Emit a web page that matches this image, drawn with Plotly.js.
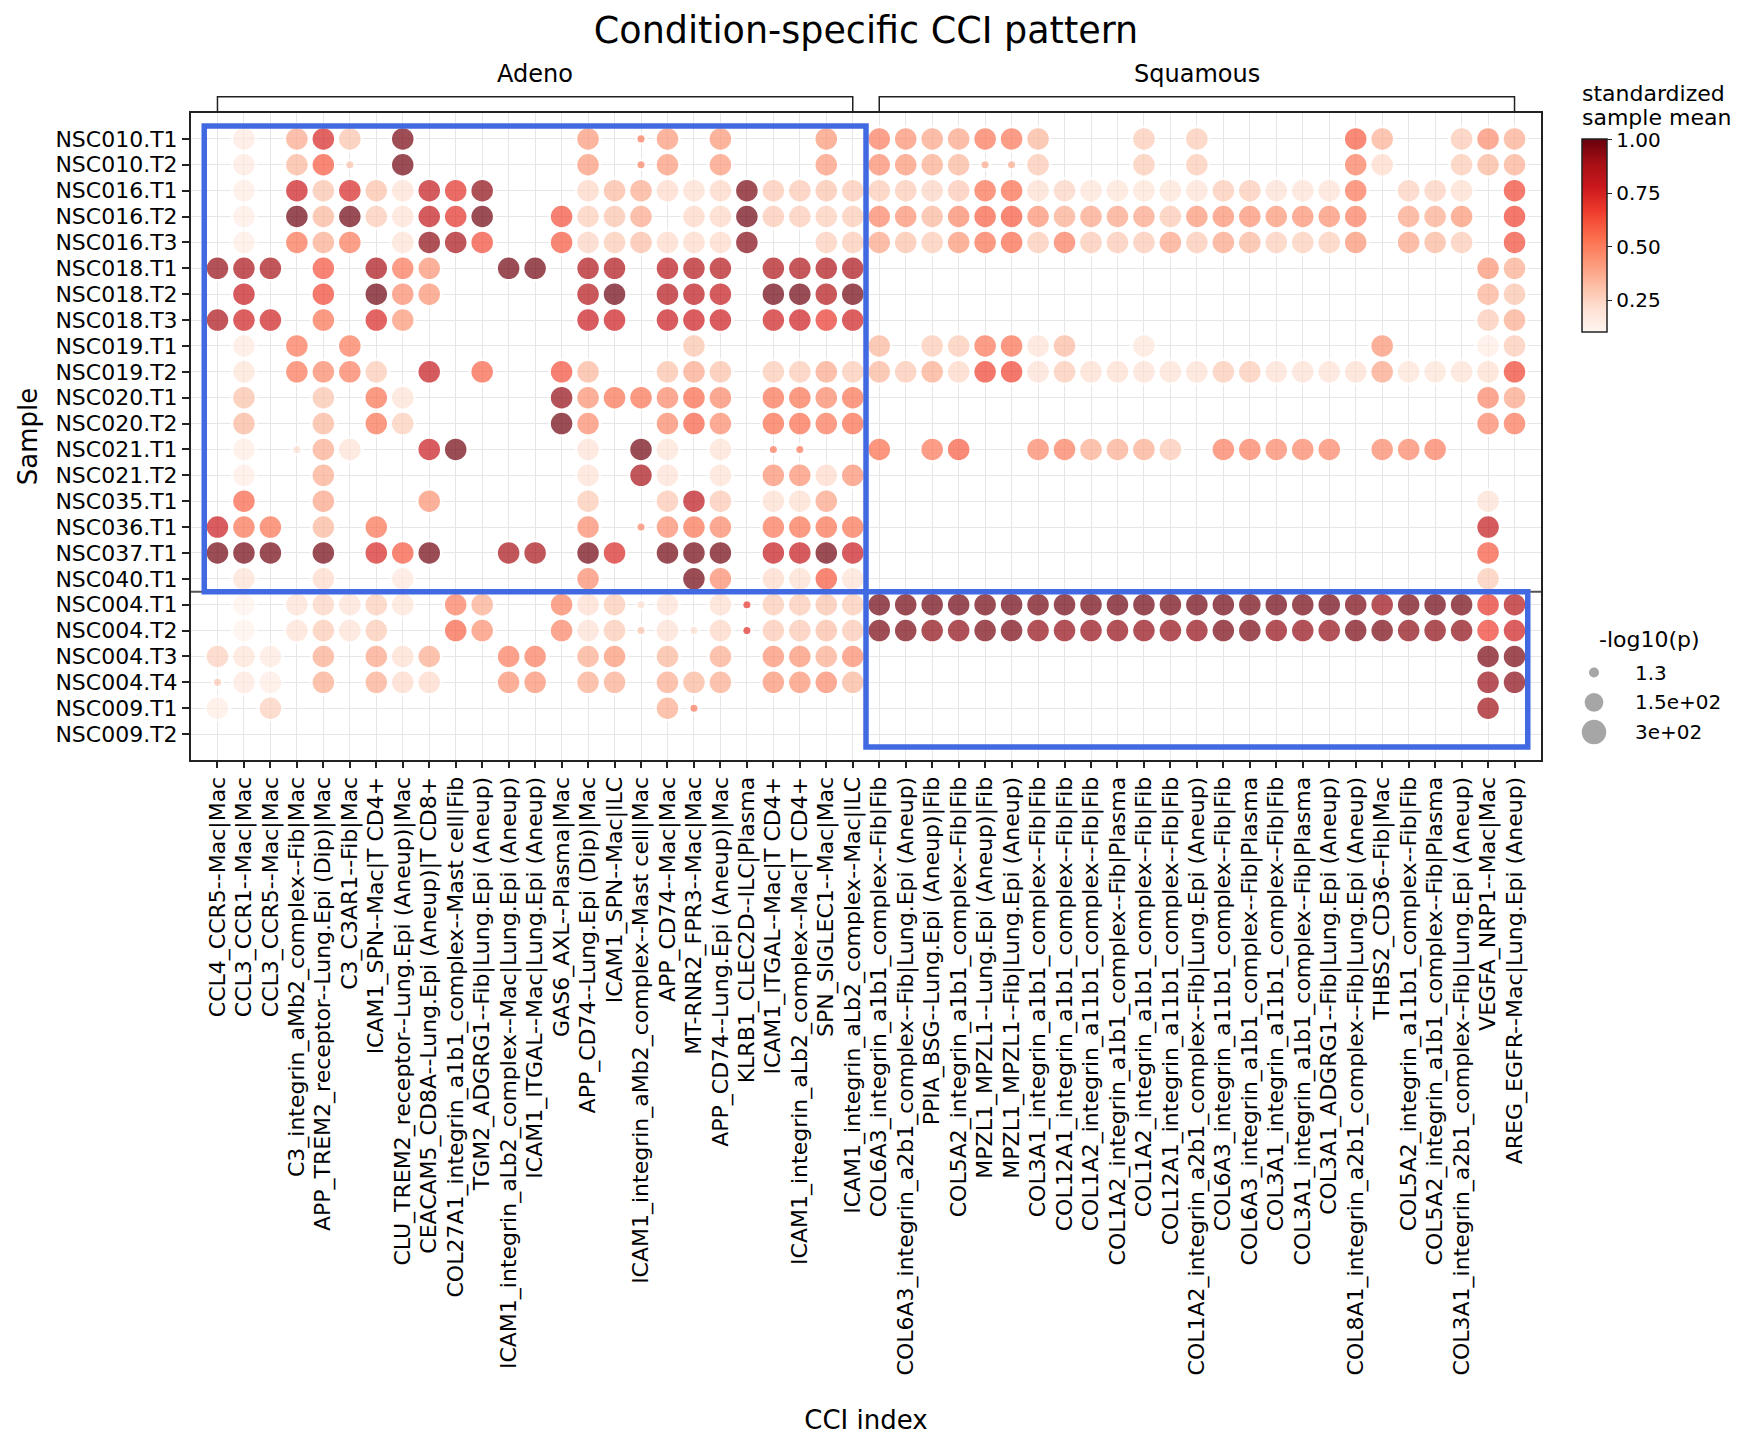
<!DOCTYPE html>
<html><head><meta charset="utf-8">
<script src="https://cdn.plot.ly/plotly-3.0.1.min.js"></script>
<style>html,body{margin:0;padding:0;background:#fff}#chart{width:1752px;height:1448px}</style>
</head><body><div id="chart"></div>
<script>
const _ = null;
const samples = ['NSC010.T1','NSC010.T2','NSC016.T1','NSC016.T2','NSC016.T3','NSC018.T1','NSC018.T2','NSC018.T3','NSC019.T1','NSC019.T2','NSC020.T1','NSC020.T2','NSC021.T1','NSC021.T2','NSC035.T1','NSC036.T1','NSC037.T1','NSC040.T1','NSC004.T1','NSC004.T2','NSC004.T3','NSC004.T4','NSC009.T1','NSC009.T2'];
const cciLabels = [
 'CCL4_CCR5--Mac|Mac','CCL3_CCR1--Mac|Mac','CCL3_CCR5--Mac|Mac','C3_integrin_aMb2_complex--Fib|Mac','APP_TREM2_receptor--Lung.Epi (Dip)|Mac',
 'C3_C3AR1--Fib|Mac','ICAM1_SPN--Mac|T CD4+','CLU_TREM2_receptor--Lung.Epi (Aneup)|Mac','CEACAM5_CD8A--Lung.Epi (Aneup)|T CD8+','COL27A1_integrin_a1b1_complex--Mast cell|Fib',
 'TGM2_ADGRG1--Fib|Lung.Epi (Aneup)','ICAM1_integrin_aLb2_complex--Mac|Lung.Epi (Aneup)','ICAM1_ITGAL--Mac|Lung.Epi (Aneup)','GAS6_AXL--Plasma|Mac','APP_CD74--Lung.Epi (Dip)|Mac',
 'ICAM1_SPN--Mac|ILC','ICAM1_integrin_aMb2_complex--Mast cell|Mac','APP_CD74--Mac|Mac','MT-RNR2_FPR3--Mac|Mac','APP_CD74--Lung.Epi (Aneup)|Mac',
 'KLRB1_CLEC2D--ILC|Plasma','ICAM1_ITGAL--Mac|T CD4+','ICAM1_integrin_aLb2_complex--Mac|T CD4+','SPN_SIGLEC1--Mac|Mac','ICAM1_integrin_aLb2_complex--Mac|ILC',
 'COL6A3_integrin_a1b1_complex--Fib|Fib','COL6A3_integrin_a2b1_complex--Fib|Lung.Epi (Aneup)','PPIA_BSG--Lung.Epi (Aneup)|Fib','COL5A2_integrin_a1b1_complex--Fib|Fib','MPZL1_MPZL1--Lung.Epi (Aneup)|Fib',
 'MPZL1_MPZL1--Fib|Lung.Epi (Aneup)','COL3A1_integrin_a1b1_complex--Fib|Fib','COL12A1_integrin_a1b1_complex--Fib|Fib','COL1A2_integrin_a11b1_complex--Fib|Fib','COL1A2_integrin_a1b1_complex--Fib|Plasma',
 'COL1A2_integrin_a1b1_complex--Fib|Fib','COL12A1_integrin_a11b1_complex--Fib|Fib','COL1A2_integrin_a2b1_complex--Fib|Lung.Epi (Aneup)','COL6A3_integrin_a11b1_complex--Fib|Fib','COL6A3_integrin_a1b1_complex--Fib|Plasma',
 'COL3A1_integrin_a11b1_complex--Fib|Fib','COL3A1_integrin_a1b1_complex--Fib|Plasma','COL3A1_ADGRG1--Fib|Lung.Epi (Aneup)','COL8A1_integrin_a2b1_complex--Fib|Lung.Epi (Aneup)','THBS2_CD36--Fib|Mac',
 'COL5A2_integrin_a11b1_complex--Fib|Fib','COL5A2_integrin_a1b1_complex--Fib|Plasma','COL3A1_integrin_a2b1_complex--Fib|Lung.Epi (Aneup)','VEGFA_NRP1--Mac|Mac','AREG_EGFR--Mac|Lung.Epi (Aneup)'];

const groupNames = ['Adeno', 'Squamous'];
const groupColStart = [0, 25];
const groupColEnd = [24, 49];
const groupRowStart = [0, 18];
const groupRowEnd = [17, 23];

// standardized sample mean (rows = samples, cols = CCI index)
const meanVals = [
 [_,.16,_,.38,.74,.30,_,.97,_,_, _,_,_,_,.42,_,.50,.42,_,.43, _,_,_,.43,_, .50,.45,.39,.39,.52, .52,.34,_,_,_, .28,_,.28,_,_, _,_,_,.59,.36, _,_,.29,.46,.37],
 [_,.16,_,.34,.60,.30,_,.98,_,_, _,_,_,_,.42,_,.48,.42,_,.42, _,_,_,.42,_, .46,.43,.37,.34,.37, .37,.29,_,_,_, .28,_,.28,_,_, _,_,_,.50,.23, _,_,.28,.34,.36],
 [_,.15,_,.77,.30,.74,.31,.20,.80,.70, .93,_,_,_,.24,.33,.37,.23,.22,.24, .97,.29,.29,.30,.29, .28,.28,.25,.29,.54, .55,.22,.25,.19,.19, .19,.19,.20,.28,.28, .21,.20,.20,.52,_, .26,.26,.22,_,.64],
 [_,.15,_,.99,.34,.99,.28,.20,.80,.70, .98,_,_,.62,.27,.30,.38,_,.24,.24, .99,.29,.28,.27,.28, .48,.45,.34,.47,.58, .60,.45,.37,.39,.39, .39,.29,.43,.45,.45, .43,.45,.45,.50,_, .39,.37,.43,_,.65],
 [_,.15,_,.53,.37,.51,_,.20,.93,.88, .63,_,_,.60,.25,.28,.32,.23,.23,.23, .95,_,_,.27,.28, .39,.31,.28,.43,.53, .56,.28,.50,.29,.29, .29,.39,.29,.39,.34, .27,.27,.27,.44,_, .39,.34,.28,_,.63],
 [.92,.87,.88,_,.61,_,.87,.52,.44,_, _,.98,.98,_,.86,.86,_,.83,.84,.84, _,.86,.86,.86,.87, _,_,_,_,_, _,_,_,_,_, _,_,_,_,_, _,_,_,_,_, _,_,_,.44,.37],
 [_,.79,_,_,.64,_,.99,.46,.44,_, _,_,_,_,.84,.99,_,.84,.82,.80, _,.99,.99,.84,.98, _,_,_,_,_, _,_,_,_,_, _,_,_,_,_, _,_,_,_,_, _,_,_,.36,.30],
 [.87,.76,.76,_,.53,_,.73,.43,_,_, _,_,_,_,.78,.77,_,.78,.77,.77, _,.76,.77,.68,.76, _,_,_,_,_, _,_,_,_,_, _,_,_,_,_, _,_,_,_,_, _,_,_,.28,.37],
 [_,.16,_,.52,_,.51,_,_,_,_, _,_,_,_,_,_,_,_,.30,_, _,_,_,_,_, .34,_,.28,.28,.52, .54,.20,.33,_,_, .18,_,_,_,_, _,_,_,_,.44, _,_,_,.15,.28],
 [_,.19,_,.52,.47,.50,.28,_,.79,_, .57,_,_,.62,.34,_,_,.31,.38,.31, _,.28,.28,.38,.28, .34,.29,.37,.24,.65, .65,.21,.28,.22,.22, .21,.20,.21,.28,.28, .21,.21,.20,.22,.39, .19,.19,.20,.22,.65],
 [_,.31,_,_,.30,_,.53,.20,_,_, _,_,_,.92,.45,.53,.53,.47,.56,.47, _,.53,.53,.47,.53, _,_,_,_,_, _,_,_,_,_, _,_,_,_,_, _,_,_,_,_, _,_,_,.48,.39],
 [_,.34,_,_,.34,_,.53,.27,_,_, _,_,_,.98,.46,_,_,.47,.58,.46, _,.55,.55,.52,.55, _,_,_,_,_, _,_,_,_,_, _,_,_,_,_, _,_,_,_,_, _,_,_,.48,.52],
 [_,.15,_,.22,.37,.20,_,_,.78,.98, _,_,_,_,.20,_,.98,.19,_,.20, _,.51,.51,_,_, .55,_,.52,.59,_, _,.48,.50,.37,.37, .37,.29,_,.50,.50, .48,.48,.48,_,.47, .48,.50,_,_,_],
 [_,.15,_,_,.37,_,_,_,_,_, _,_,_,_,.20,_,.88,.20,_,.20, _,.45,.45,.23,.45, _,_,_,_,_, _,_,_,_,_, _,_,_,_,_, _,_,_,_,_, _,_,_,_,_],
 [_,.57,_,_,.39,_,_,_,.44,_, _,_,_,_,.28,_,_,.29,.82,.29, _,.22,.22,.39,_, _,_,_,_,_, _,_,_,_,_, _,_,_,_,_, _,_,_,_,_, _,_,_,.21,_],
 [.78,.53,.53,_,.34,_,.53,_,_,_, _,_,_,_,.46,_,.47,.46,.53,.47, _,.52,.53,.53,.53, _,_,_,_,_, _,_,_,_,_, _,_,_,_,_, _,_,_,_,_, _,_,_,.80,_],
 [.98,.98,.98,_,.98,_,.74,.60,.98,_, _,.88,.88,_,.98,.73,_,.98,.98,.98, _,.79,.79,.98,.78, _,_,_,_,_, _,_,_,_,_, _,_,_,_,_, _,_,_,_,_, _,_,_,.60,_],
 [_,.20,_,_,.23,_,_,.17,_,_, _,_,_,_,.46,_,_,_,.98,.46, _,.23,.22,.60,.20, _,_,_,_,_, _,_,_,_,_, _,_,_,_,_, _,_,_,_,_, _,_,_,.28,_],
 [_,.11,_,.20,.25,.20,.27,.19,_,.50, .37,_,_,.49,.22,.28,.22,.20,_,.22, .68,.28,.28,.30,.28, .99,.98,.99,.99,.98, .99,.98,.99,.98,.99, .99,.98,.99,.99,.98, .99,.98,.99,.97,.91, .98,.99,.98,.69,.84],
 [_,.11,_,.20,.28,.20,.28,_,_,.57, .45,_,_,.48,.21,.28,.30,.21,.22,.24, .70,.29,.29,.32,.29, .97,.97,.93,.93,.97, .97,.92,.92,.92,.92, .92,.92,.92,.97,.97, .92,.92,.92,.97,.97, .93,.93,.93,.66,.76],
 [.26,.19,.16,_,.37,_,.39,.22,.37,_, _,.50,.50,_,.37,.43,_,.34,_,.37, _,.45,.44,.37,.46, _,_,_,_,_, _,_,_,_,_, _,_,_,_,_, _,_,_,_,_, _,_,_,.97,.97],
 [.29,.17,.15,_,.37,_,.37,.23,.23,_, _,.45,.45,_,.37,.37,_,.37,.34,.37, _,.44,.44,.46,.34, _,_,_,_,_, _,_,_,_,_, _,_,_,_,_, _,_,_,_,_, _,_,_,.91,.94],
 [.15,_,.26,_,_,_,_,_,_,_, _,_,_,_,_,_,_,.37,.50,_, _,_,_,_,_, _,_,_,_,_, _,_,_,_,_, _,_,_,_,_, _,_,_,_,_, _,_,_,.90,_],
 [_,_,_,_,_,_,_,_,_,_, _,_,_,_,_,_,_,_,_,_, _,_,_,_,_, _,_,_,_,_, _,_,_,_,_, _,_,_,_,_, _,_,_,_,_, _,_,_,_,_]
];

// -log10(p) for each cell
const negLogP = [
 [_,300,_,300,300,300,_,300,_,_, _,_,_,_,300,_,2.0,300,_,300, _,_,_,300,_, 300,300,300,300,300, 300,300,_,_,_, 300,_,300,_,_, _,_,_,300,300, _,_,300,300,300],
 [_,300,_,300,300,2.6,_,300,_,_, _,_,_,_,300,_,1.9,300,_,300, _,_,_,300,_, 300,300,300,300,2.9, 2.3,300,_,_,_, 300,_,300,_,_, _,_,_,300,300, _,_,300,300,300],
 [_,300,_,300,300,300,300,300,300,300, 300,_,_,_,300,300,300,300,300,300, 300,300,300,300,300, 300,300,300,300,300, 300,300,300,300,300, 300,300,300,300,300, 300,300,300,300,_, 300,300,300,_,300],
 [_,300,_,300,300,300,300,300,300,300, 300,_,_,300,300,300,300,_,300,300, 300,300,300,300,300, 300,300,300,300,300, 300,300,300,300,300, 300,300,300,300,300, 300,300,300,300,_, 300,300,300,_,300],
 [_,300,_,300,300,300,_,300,300,300, 300,_,_,300,300,300,300,300,300,300, 300,_,_,300,300, 300,300,300,300,300, 300,300,300,300,300, 300,300,300,300,300, 300,300,300,300,_, 300,300,300,_,300],
 [300,300,300,_,300,_,300,300,300,_, _,300,300,_,300,300,_,300,300,300, _,300,300,300,300, _,_,_,_,_, _,_,_,_,_, _,_,_,_,_, _,_,_,_,_, _,_,_,300,300],
 [_,300,_,_,300,_,300,300,300,_, _,_,_,_,300,300,_,300,300,300, _,300,300,300,300, _,_,_,_,_, _,_,_,_,_, _,_,_,_,_, _,_,_,_,_, _,_,_,300,300],
 [300,300,300,_,300,_,300,300,_,_, _,_,_,_,300,300,_,300,300,300, _,300,300,300,300, _,_,_,_,_, _,_,_,_,_, _,_,_,_,_, _,_,_,_,_, _,_,_,300,300],
 [_,300,_,300,_,300,_,_,_,_, _,_,_,_,_,_,_,_,300,_, _,_,_,_,_, 300,_,300,300,300, 300,300,300,_,_, 300,_,_,_,_, _,_,_,_,300, _,_,_,300,300],
 [_,300,_,300,300,300,300,_,300,_, 300,_,_,300,300,_,_,300,300,300, _,300,300,300,300, 300,300,300,300,300, 300,300,300,300,300, 300,300,300,300,300, 300,300,300,300,300, 300,300,300,300,300],
 [_,300,_,_,300,_,300,300,_,_, _,_,_,300,300,300,300,300,300,300, _,300,300,300,300, _,_,_,_,_, _,_,_,_,_, _,_,_,_,_, _,_,_,_,_, _,_,_,300,300],
 [_,300,_,_,300,_,300,300,_,_, _,_,_,300,300,_,_,300,300,300, _,300,300,300,300, _,_,_,_,_, _,_,_,_,_, _,_,_,_,_, _,_,_,_,_, _,_,_,300,300],
 [_,300,_,2.4,300,300,_,_,300,300, _,_,_,_,300,_,300,300,_,300, _,2.2,2.2,_,_, 300,_,300,300,_, _,300,300,300,300, 300,300,_,300,300, 300,300,300,_,300, 300,300,_,_,_],
 [_,300,_,_,300,_,_,_,_,_, _,_,_,_,300,_,300,300,_,300, _,300,300,300,300, _,_,_,_,_, _,_,_,_,_, _,_,_,_,_, _,_,_,_,_, _,_,_,_,_],
 [_,300,_,_,300,_,_,_,300,_, _,_,_,_,300,_,_,300,300,300, _,300,300,300,_, _,_,_,_,_, _,_,_,_,_, _,_,_,_,_, _,_,_,_,_, _,_,_,300,_],
 [300,300,300,_,300,_,300,_,_,_, _,_,_,_,300,_,2.0,300,300,300, _,300,300,300,300, _,_,_,_,_, _,_,_,_,_, _,_,_,_,_, _,_,_,_,_, _,_,_,300,_],
 [300,300,300,_,300,_,300,300,300,_, _,300,300,_,300,300,_,300,300,300, _,300,300,300,300, _,_,_,_,_, _,_,_,_,_, _,_,_,_,_, _,_,_,_,_, _,_,_,300,_],
 [_,300,_,_,300,_,_,300,_,_, _,_,_,_,300,_,_,_,300,300, _,300,300,300,300, _,_,_,_,_, _,_,_,_,_, _,_,_,_,_, _,_,_,_,_, _,_,_,300,_],
 [_,300,_,300,300,300,300,300,_,300, 300,_,_,300,300,300,2.0,300,_,300, 2.6,300,300,300,300, 300,300,300,300,300, 300,300,300,300,300, 300,300,300,300,300, 300,300,300,300,300, 300,300,300,300,300],
 [_,300,_,300,300,300,300,_,_,300, 300,_,_,300,300,300,1.8,300,2.0,300, 2.4,300,300,300,300, 300,300,300,300,300, 300,300,300,300,300, 300,300,300,300,300, 300,300,300,300,300, 300,300,300,300,300],
 [300,300,300,_,300,_,300,300,300,_, _,300,300,_,300,300,_,300,_,300, _,300,300,300,300, _,_,_,_,_, _,_,_,_,_, _,_,_,_,_, _,_,_,_,_, _,_,_,300,300],
 [2.3,300,300,_,300,_,300,300,300,_, _,300,300,_,300,300,_,300,300,300, _,300,300,300,300, _,_,_,_,_, _,_,_,_,_, _,_,_,_,_, _,_,_,_,_, _,_,_,300,300],
 [300,_,300,_,_,_,_,_,_,_, _,_,_,_,_,_,_,300,2.2,_, _,_,_,_,_, _,_,_,_,_, _,_,_,_,_, _,_,_,_,_, _,_,_,_,_, _,_,_,300,_],
 [_,_,_,_,_,_,_,_,_,_, _,_,_,_,_,_,_,_,_,_, _,_,_,_,_, _,_,_,_,_, _,_,_,_,_, _,_,_,_,_, _,_,_,_,_, _,_,_,_,_]
];

const sizeLegendVals = [1.3, 150, 300];
const sizeLegendLabels = ['1.3', '1.5e+02', '3e+02'];
const colorTickVals = [0.25, 0.50, 0.75, 1.00];
const colorTickText = ['0.25', '0.50', '0.75', '1.00'];
const colorMin = 0.1, colorMax = 1.0;

// ---------- styling / mapping ----------
const FONT = 'DejaVu Sans';
const redsScale = [[0,'#fff5f0'],[0.125,'#fee0d2'],[0.25,'#fcbba1'],[0.375,'#fc9272'],[0.5,'#fb6a4a'],[0.625,'#ef3b2c'],[0.75,'#cb181d'],[0.875,'#a50f15'],[1,'#67000d']];
const sizeOf = v => Math.sqrt(97.8 + 1.674 * v);   // marker diameter (px) from -log10(p)

const xs = [], ys = [], cs = [], ss = [], hs = [];
meanVals.forEach((row, r) => row.forEach((v, c) => {
  const p = negLogP[r][c];
  if (v === null || p === null) return;
  xs.push(c); ys.push(r); cs.push(v); ss.push(sizeOf(p));
  hs.push(samples[r] + '<br>' + cciLabels[c] + '<br>mean: ' + v + '<br>-log10(p): ' + p);
}));

const colIdx = cciLabels.map((d, i) => i);
const rowIdx = samples.map((d, i) => i);

const L = 191, R = 10, T = 113, B = 688, W = 1752, H = 1448;
const paperW = W - L - R, paperH = H - T - B;
const plotRight = 1541;
const pxX = px => (px - L) / paperW;
const pxY = py => 1 - (py - T) / paperH;

const main = {
  type: 'scatter', mode: 'markers', x: xs, y: ys, text: hs, hoverinfo: 'text',
  xaxis: 'x', yaxis: 'y', showlegend: false,
  marker: {
    size: ss, sizemode: 'diameter', sizeref: 1,
    color: cs, colorscale: redsScale, cmin: colorMin, cmax: colorMax,
    line: {color: '#ffffff', width: 3},
    colorbar: {
      thickness: 25, thicknessmode: 'pixels', len: 193, lenmode: 'pixels',
      x: pxX(1582), xref: 'paper', xanchor: 'left',
      y: pxY(139.5), yref: 'paper', yanchor: 'top',
      xpad: 0, ypad: 0, outlinewidth: 1.5, outlinecolor: '#222',
      ticks: 'outside', ticklen: 5, tickwidth: 1.2, tickcolor: '#222',
      tickvals: colorTickVals, ticktext: colorTickText,
      tickfont: {family: FONT, size: 20, color: '#000'},
      title: {text: ''}
    }
  }
};

// size legend (own small axes)
const legendRows = sizeLegendVals.map((d, i) => i);
const sizeLegend = {
  type: 'scatter', mode: 'markers', xaxis: 'x2', yaxis: 'y2', hoverinfo: 'skip', showlegend: false,
  x: sizeLegendVals.map(() => 0), y: legendRows,
  marker: {size: sizeLegendVals.map(sizeOf), sizemode: 'diameter', color: '#808080', line: {width: 0}}
};

const shapes = [];
// separator between sample groups
shapes.push({type: 'line', xref: 'x domain', x0: 0, x1: 1, yref: 'y',
  y0: groupRowEnd[0] + 0.5, y1: groupRowEnd[0] + 0.5, line: {color: '#555', width: 2}});
// highlight boxes and brackets
groupNames.forEach((g, i) => {
  shapes.push({type: 'rect', xref: 'x', yref: 'y',
    x0: groupColStart[i] - 0.5, x1: groupColEnd[i] + 0.5,
    y0: groupRowStart[i] - 0.5, y1: groupRowEnd[i] + 0.5,
    line: {color: '#4169e1', width: 5.5}, fillcolor: 'rgba(0,0,0,0)'});
  const yb = 1 + (T - 96.7) / paperH;
  shapes.push({type: 'path', xref: 'x', yref: 'y domain',
    path: `M ${groupColStart[i]},1 L ${groupColStart[i]},${yb} L ${groupColEnd[i]},${yb} L ${groupColEnd[i]},1`,
    line: {color: '#222', width: 1.5}});
});

const annotations = [];
groupNames.forEach((g, i) => {
  annotations.push({text: g, xref: 'x', x: (groupColStart[i] + groupColEnd[i]) / 2,
    yref: 'y domain', y: 1 + (T - 74) / paperH, xanchor: 'center', yanchor: 'middle',
    showarrow: false, font: {family: FONT, size: 24, color: '#000'}});
});
annotations.push({text: 'standardized', xref: 'paper', x: pxX(1580), yref: 'paper', y: pxY(93.5),
  xanchor: 'left', yanchor: 'middle', showarrow: false, font: {family: FONT, size: 22, color: '#000'}});
annotations.push({text: 'sample mean', xref: 'paper', x: pxX(1580), yref: 'paper', y: pxY(118),
  xanchor: 'left', yanchor: 'middle', showarrow: false, font: {family: FONT, size: 22, color: '#000'}});
annotations.push({text: '-log10(p)', xref: 'x2', x: 2.7, yref: 'y2', y: -1.124,
  xanchor: 'left', yanchor: 'middle', showarrow: false, font: {family: FONT, size: 22, color: '#000'}});
sizeLegendLabels.forEach((t, i) => annotations.push({text: t, xref: 'x2', x: 39, yref: 'y2', y: i,
  xanchor: 'left', yanchor: 'middle', showarrow: false, font: {family: FONT, size: 20, color: '#000'}}));

const layout = {
  width: W, height: H,
  margin: {l: L, r: R, t: T, b: B, pad: 0, autoexpand: false},
  paper_bgcolor: '#fff', plot_bgcolor: '#fff',
  font: {family: FONT, color: '#000'},
  showlegend: false,
  title: {text: 'Condition-specific CCI pattern', font: {family: FONT, size: 36.5, color: '#000'},
    xref: 'container', x: 866 / W, xanchor: 'center', yref: 'container', y: 1 - 30.5 / H, yanchor: 'middle'},
  xaxis: {
    domain: [0, pxX(plotRight)], range: [-1, 50], autorange: false,
    tickmode: 'array', tickvals: colIdx, ticktext: cciLabels, tickangle: -90,
    tickfont: {family: FONT, size: 22, color: '#000'},
    ticks: 'outside', ticklen: 6, tickwidth: 1.5, tickcolor: '#222',
    showgrid: true, gridcolor: '#e6e6e6', gridwidth: 1, zeroline: false,
    showline: true, mirror: true, linecolor: '#222', linewidth: 2,
    title: {text: 'CCI index', font: {family: FONT, size: 26, color: '#000'}, standoff: 36},
    automargin: false, fixedrange: true
  },
  yaxis: {
    domain: [0, 1], range: [24, -1], autorange: false,
    tickmode: 'array', tickvals: rowIdx, ticktext: samples,
    tickfont: {family: FONT, size: 22, color: '#000'},
    ticks: 'outside', ticklen: 7, tickwidth: 1.5, tickcolor: '#222',
    showgrid: true, gridcolor: '#e6e6e6', gridwidth: 1, zeroline: false,
    showline: true, mirror: true, linecolor: '#222', linewidth: 2,
    title: {text: 'Sample', font: {family: FONT, size: 26, color: '#000'}, standoff: 10},
    automargin: false, fixedrange: true
  },
  xaxis2: {domain: [pxX(1580), 1], range: [-14, 148], visible: false, fixedrange: true, anchor: 'y2'},
  yaxis2: {domain: [pxY(750), pxY(620)], range: [2.6, -1.762], visible: false, fixedrange: true, anchor: 'x2'},
  shapes: shapes,
  annotations: annotations,
  hovermode: 'closest'
};

Plotly.newPlot('chart', [main, sizeLegend], layout, {displayModeBar: false, responsive: false});
</script>
</body></html>
